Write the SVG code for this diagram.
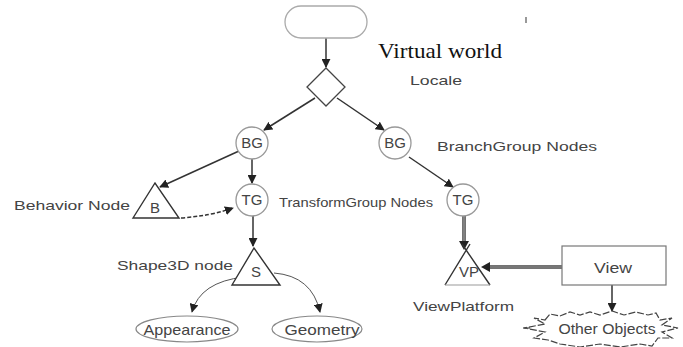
<svg xmlns="http://www.w3.org/2000/svg" width="683" height="347" viewBox="0 0 683 347">
<defs>
<marker id="ah" viewBox="0 0 10 10" refX="9" refY="5" markerWidth="9" markerHeight="9" markerUnits="userSpaceOnUse" orient="auto">
<path d="M0,0 L10,5 L0,10 Z" fill="#222"/>
</marker>
<style>
.lbl{font-family:"Liberation Sans",Arial,sans-serif;font-size:13px;fill:#444}
.in{font-family:"Liberation Sans",Arial,sans-serif;font-size:15px;fill:#444;text-anchor:middle}
.circ{fill:#fff;stroke:#999;stroke-width:1.3}
.tri{fill:#fff;stroke:#333;stroke-width:1.4}
.ln{fill:none;stroke:#333;stroke-width:1.5}
.thin{fill:none;stroke:#555;stroke-width:1}
</style>
</defs>
<rect width="683" height="347" fill="#fff"/>

<g id="connectors">
<line class="ln" x1="326" y1="38" x2="326" y2="67" marker-end="url(#ah)"/>
<line class="ln" x1="315" y1="98" x2="264" y2="130" marker-end="url(#ah)"/>
<line class="ln" x1="337" y1="98" x2="384" y2="130" marker-end="url(#ah)"/>
<line class="ln" x1="239" y1="151" x2="160" y2="187" marker-end="url(#ah)"/>
<line class="ln" x1="252" y1="159" x2="252" y2="183" marker-end="url(#ah)"/>
<line class="ln" x1="409" y1="157" x2="453" y2="187" marker-end="url(#ah)"/>
<path class="ln" d="M181,218 Q210,216 233,208" stroke-dasharray="4 2" marker-end="url(#ah)"/>
<line class="ln" x1="253" y1="216" x2="253" y2="246" marker-end="url(#ah)"/>
<path class="thin" d="M244,277 Q200,282 192,312" marker-end="url(#ah)"/>
<path class="thin" d="M274,273 Q312,276 320,312" marker-end="url(#ah)"/>
<line x1="464" y1="216" x2="464" y2="244" stroke="#444" stroke-width="3.5"/>
<line x1="464" y1="216" x2="464" y2="244" stroke="#aaa" stroke-width="1.2"/>
<path d="M459,241 L469,241 L464,250 Z" fill="#222"/>
<line x1="562" y1="267" x2="488" y2="267" stroke="#444" stroke-width="3.5"/>
<line x1="562" y1="267" x2="488" y2="267" stroke="#aaa" stroke-width="1.2"/>
<path d="M490,262 L490,272 L481,267 Z" fill="#222"/>
<line class="ln" x1="612" y1="285" x2="612" y2="311" marker-end="url(#ah)"/>
</g>

<g id="virtual-world">
<rect x="285" y="6" width="82" height="32" rx="16" fill="#fff" stroke="#aaa" stroke-width="1.3"/>
</g>
<text x="378" y="58" font-family="'Liberation Serif','Times New Roman',serif" font-size="22" fill="#111" textLength="124" lengthAdjust="spacingAndGlyphs">Virtual world</text>
<line x1="526" y1="17" x2="526" y2="23" stroke="#555" stroke-width="1.2"/>

<g id="locale">
<path d="M326,68 L345,87 L326,106 L307,87 Z" fill="#fff" stroke="#444" stroke-width="1.3"/>
<text class="lbl" x="410" y="85" textLength="52" lengthAdjust="spacingAndGlyphs">Locale</text>
</g>

<g id="bg-left">
<circle class="circ" cx="252" cy="143" r="16"/>
<text class="in" x="252" y="148">BG</text>
</g>
<g id="bg-right">
<circle class="circ" cx="395" cy="143" r="16"/>
<text class="in" x="395" y="148">BG</text>
<text class="lbl" x="437" y="151" textLength="160" lengthAdjust="spacingAndGlyphs">BranchGroup Nodes</text>
</g>

<g id="behavior">
<path class="tri" d="M133,218 L155,183 L179,218 Z"/>
<text class="in" x="155" y="213">B</text>
<text class="lbl" x="14" y="210" font-size="14" textLength="116" lengthAdjust="spacingAndGlyphs">Behavior Node</text>
</g>

<g id="tg-left">
<circle class="circ" cx="252" cy="200" r="16"/>
<text class="in" x="252" y="205">TG</text>
<text class="lbl" x="279" y="207" textLength="154" lengthAdjust="spacingAndGlyphs">TransformGroup Nodes</text>
</g>
<g id="tg-right">
<circle class="circ" cx="463" cy="200" r="16"/>
<text class="in" x="463" y="205">TG</text>
</g>

<g id="shape3d">
<path class="tri" d="M232,285 L254,248 L280,285 Z"/>
<text class="in" x="256" y="277">S</text>
<text class="lbl" x="117" y="270" textLength="116" lengthAdjust="spacingAndGlyphs">Shape3D node</text>
</g>

<g id="appearance">
<ellipse cx="187" cy="329" rx="51" ry="13" fill="#fff" stroke="#888" stroke-width="1.2"/>
<text class="in" x="187" y="335" font-size="14" textLength="87" lengthAdjust="spacingAndGlyphs">Appearance</text>
</g>
<g id="geometry">
<ellipse cx="317" cy="329" rx="45" ry="13" fill="#fff" stroke="#888" stroke-width="1.2"/>
<text class="in" x="322" y="335" font-size="14" textLength="75" lengthAdjust="spacingAndGlyphs">Geometry</text>
</g>

<g id="viewplatform">
<path class="tri" d="M445,285 L470,244 M462,244 L490,285" />
<line x1="445" y1="285" x2="490" y2="285" stroke="#999" stroke-width="1.2"/>
<text class="in" x="469" y="277" font-size="13">VP</text>
<text class="lbl" x="413" y="311" textLength="101" lengthAdjust="spacingAndGlyphs">ViewPlatform</text>
</g>

<g id="view">
<rect x="562" y="246" width="104" height="39" fill="#fff" stroke="#777" stroke-width="1.2"/>
<text class="in" x="613" y="273" font-size="14" textLength="38" lengthAdjust="spacingAndGlyphs">View</text>
</g>

<g id="other-objects">
<path d="M545,320 L550,314 L560,316 L570,312 L580,315 L590,312 L600,315 L612,311 L624,315 L636,312 L648,315 L656,313 L660,320 L672,318 L662,325 L678,328 L662,332 L672,338 L658,338 L652,346 L640,344 L620,347 L600,344 L580,347 L560,344 L548,340 L534,338 L545,332 L524,328 L545,324 L534,318 Z" fill="#fff" stroke="#444" stroke-width="1.2" stroke-dasharray="7 2"/>
<line x1="523" y1="328" x2="530" y2="328" stroke="#444" stroke-width="1.2"/>
<text class="in" x="607" y="334" font-size="14" textLength="97" lengthAdjust="spacingAndGlyphs">Other Objects</text>
</g>
</svg>
